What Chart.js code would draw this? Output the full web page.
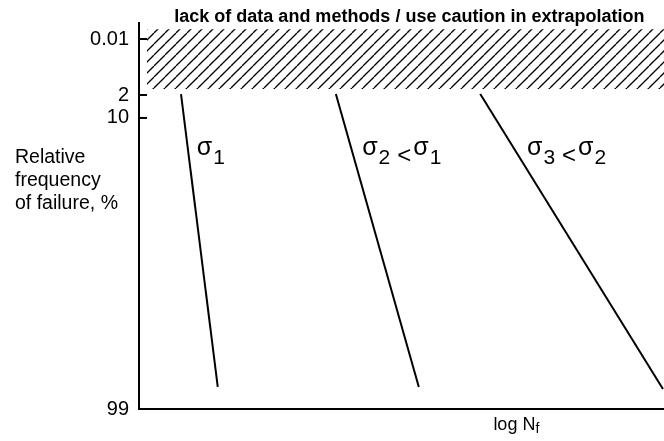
<!DOCTYPE html>
<html>
<head>
<meta charset="utf-8">
<script src="https://cdn.jsdelivr.net/npm/chart.js@4.4.0/dist/chart.umd.min.js"></script>
<style>
  html, body { margin: 0; padding: 0; background: #fff; }
</style>
</head>
<body>
<canvas id="chart" width="664" height="441"></canvas>
<script>
// x: log Nf (arbitrary units 0..10), y: schematic probability scale (0 = 99 %, up = rarer)
const yTickPos = [95.85, 81.35, 75.4, 0];
const yTickLabels = ['0.01', '2', '10', '99'];

const sigma1LogN = [0.80, 1.50];
const sigma1Pos = [81.6, 5.7];
const sigma2LogN = [3.75, 5.33];
const sigma2Pos = [81.6, 5.7];
const sigma3LogN = [6.50, 9.98];
const sigma3Pos = [81.6, 5.2];

// hatched band: lack of data
const hatchLogN = [0.15, 10];
const hatchTop = 98.4;
const hatchBottom = 82.9;

const titleText = 'lack of data and methods / use caution in extrapolation';
const yLabelLines = ['Relative', 'frequency', 'of failure, %'];

const pts = (xs, ys) => xs.map((x, i) => ({ x: x, y: ys[i] }));

function hatchPattern() {
    const s = 11;
    const c = document.createElement('canvas');
    c.width = s; c.height = s;
    const g = c.getContext('2d');
    g.strokeStyle = '#000';
    g.lineWidth = 1.3;
    for (const k of [-s, 0, s]) {
        g.beginPath();
        g.moveTo(k, s);
        g.lineTo(k + s, 0);
        g.stroke();
    }
    return g.createPattern(c, 'repeat');
}

const lineStyle = {
    borderColor: '#000',
    borderWidth: 2,
    pointRadius: 0,
    fill: false,
    tension: 0
};

const FONT = '"Liberation Sans", Arial, sans-serif';

// sigma label: parts are [text, kind] with kind 's' (sigma), 'd' (subscript digit), 'o' (operator)
function drawSigma(ctx, x, y, parts) {
    ctx.textAlign = 'left';
    ctx.textBaseline = 'alphabetic';
    let cx = x;
    parts.forEach(([t, kind]) => {
        if (kind === 's') {
            ctx.font = '25px ' + FONT;
            ctx.fillText(t, cx, y);
            cx += ctx.measureText(t).width + 1;
        } else if (kind === 'd') {
            ctx.font = '21px ' + FONT;
            ctx.fillText(t, cx, y + 9);
            cx += ctx.measureText(t).width + 7;
        } else {
            ctx.font = '24px ' + FONT;
            ctx.fillText(t, cx, y + 8);
            cx += ctx.measureText(t).width + 2;
        }
    });
}

const textPlugin = {
    id: 'texts',
    afterDraw(chart) {
        const ctx = chart.ctx;
        const xs = chart.scales.x, ys = chart.scales.y;
        const area = chart.chartArea;
        ctx.save();
        ctx.fillStyle = '#000';
        ctx.strokeStyle = '#000';

        // inward tick marks on the y axis
        ctx.lineWidth = 2;
        yTickPos.forEach(v => {
            const py = ys.getPixelForValue(v);
            ctx.beginPath();
            ctx.moveTo(area.left, py);
            ctx.lineTo(area.left + 8, py);
            ctx.stroke();
        });

        // title over the hatched band
        ctx.font = 'bold 18px ' + FONT;
        ctx.textAlign = 'center';
        ctx.textBaseline = 'alphabetic';
        ctx.fillText(titleText, xs.getPixelForValue(5.15), area.top - 1);

        // y axis label (horizontal, left)
        ctx.font = '19.5px ' + FONT;
        ctx.textAlign = 'left';
        [63.7, 57.8, 51.8].forEach((v, i) => {
            ctx.fillText(yLabelLines[i], 15, ys.getPixelForValue(v));
        });

        // sigma labels
        const by = ys.getPixelForValue(65.8);
        drawSigma(ctx, xs.getPixelForValue(1.10), by, [['σ', 's'], ['1', 'd']]);
        drawSigma(ctx, xs.getPixelForValue(4.25), by, [['σ', 's'], ['2', 'd'], ['<', 'o'], ['σ', 's'], ['1', 'd']]);
        drawSigma(ctx, xs.getPixelForValue(7.39), by, [['σ', 's'], ['3', 'd'], ['<', 'o'], ['σ', 's'], ['2', 'd']]);

        // x axis label log Nf
        const lx = xs.getPixelForValue(6.75);
        const ly = area.bottom + 21;
        ctx.font = '18px ' + FONT;
        ctx.fillText('log N', lx, ly);
        const w = ctx.measureText('log N').width;
        ctx.font = '14px ' + FONT;
        ctx.fillText('f', lx + w, ly + 3);

        ctx.restore();
    }
};

new Chart(document.getElementById('chart').getContext('2d'), {
    type: 'line',
    data: {
        datasets: [
            {
                label: 'hatch',
                data: pts(hatchLogN, [hatchTop, hatchTop]),
                borderColor: 'rgba(0,0,0,0)',
                borderWidth: 1,
                pointRadius: 0,
                backgroundColor: hatchPattern(),
                fill: { value: hatchBottom }
            },
            Object.assign({ label: 'σ1', data: pts(sigma1LogN, sigma1Pos) }, lineStyle),
            Object.assign({ label: 'σ2', data: pts(sigma2LogN, sigma2Pos) }, lineStyle),
            Object.assign({ label: 'σ3', data: pts(sigma3LogN, sigma3Pos) }, lineStyle)
        ]
    },
    options: {
        responsive: false,
        animation: false,
        devicePixelRatio: 1,
        layout: { padding: { top: 23, bottom: 32, left: 0, right: 0 } },
        plugins: {
            legend: { display: false },
            tooltip: { enabled: false },
            title: { display: false }
        },
        scales: {
            x: {
                type: 'linear',
                min: 0,
                max: 10,
                ticks: { display: false },
                grid: { display: false, drawTicks: false },
                border: { display: true, color: '#000', width: 2 },
                afterFit: s => { s.height = 0; }
            },
            y: {
                type: 'linear',
                min: 0,
                max: 100,
                afterBuildTicks: s => { s.ticks = yTickPos.map(v => ({ value: v })); },
                ticks: {
                    autoSkip: false,
                    padding: 10,
                    color: '#000',
                    font: { family: 'Liberation Sans', size: 20 },
                    callback: v => yTickLabels[yTickPos.indexOf(v)]
                },
                grid: { display: false, drawTicks: false },
                border: { display: true, color: '#000', width: 2 },
                afterFit: s => { s.width = 139; }
            }
        }
    },
    plugins: [textPlugin]
});
</script>
</body>
</html>
